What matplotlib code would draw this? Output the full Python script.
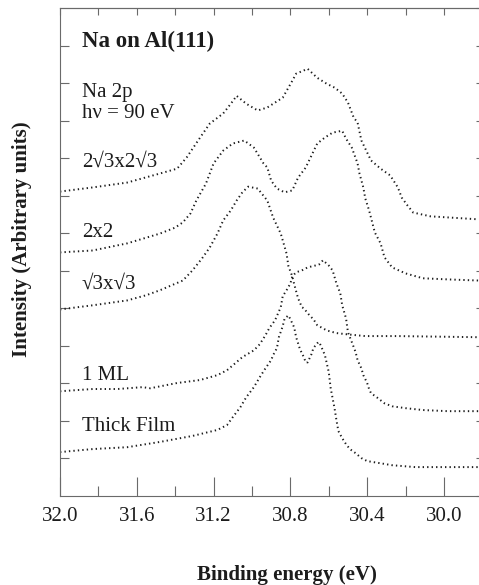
import numpy as np
import matplotlib.pyplot as plt
from matplotlib.ticker import MultipleLocator, FormatStrFormatter, NullFormatter

plt.rcParams['font.family'] = ['Liberation Serif', 'DejaVu Serif']

# Na 2p spectra, binding energy (eV) and intensity (arb. units, offset per curve)
e_2r3 = [32.00, 31.83, 31.65, 31.48, 31.39, 31.34, 31.27, 31.22, 31.15, 31.11, 31.08, 31.03,
         30.97, 30.92, 30.84, 30.79, 30.77, 30.71, 30.66, 30.61, 30.57, 30.53, 30.50, 30.47,
         30.45, 30.43, 30.40, 30.38, 30.33, 30.28, 30.24, 30.22, 30.19, 30.16, 30.07, 29.82]
i_2r3 = [8.11, 8.22, 8.35, 8.59, 8.72, 9.02, 9.55, 9.92, 10.19, 10.45, 10.66, 10.45,
         10.27, 10.35, 10.61, 11.06, 11.25, 11.38, 11.14, 10.98, 10.88, 10.72, 10.48, 10.08,
         9.95, 9.47, 9.15, 8.94, 8.72, 8.54, 8.22, 7.95, 7.74, 7.55, 7.45, 7.37]

e_2x2 = [32.00, 31.83, 31.65, 31.48, 31.40, 31.36, 31.32, 31.29, 31.24, 31.20, 31.15, 31.10,
         31.04, 30.99, 30.94, 30.92, 30.90, 30.87, 30.83, 30.79, 30.76, 30.72, 30.69, 30.66,
         30.62, 30.58, 30.53, 30.51, 30.48, 30.45, 30.44, 30.42, 30.41, 30.39, 30.36, 30.33,
         30.31, 30.27, 30.20, 30.11, 29.98, 29.82]
i_2x2 = [6.49, 6.54, 6.73, 6.99, 7.15, 7.29, 7.53, 7.87, 8.32, 8.86, 9.20, 9.39,
         9.47, 9.28, 8.86, 8.75, 8.40, 8.19, 8.09, 8.14, 8.48, 8.75, 9.07, 9.39,
         9.55, 9.68, 9.73, 9.52, 9.28, 8.86, 8.59, 8.22, 7.93, 7.61, 7.02, 6.73,
         6.36, 6.09, 5.93, 5.80, 5.77, 5.74]

e_r3 = [32.00, 31.83, 31.65, 31.55, 31.48, 31.36, 31.31, 31.26, 31.22, 31.18, 31.15, 31.11,
        31.08, 31.05, 31.02, 30.97, 30.92, 30.89, 30.85, 30.82, 30.81, 30.79, 30.78, 30.76,
        30.74, 30.73, 30.70, 30.68, 30.66, 30.61, 30.56, 30.51, 30.41, 30.24, 29.82]
i_r3 = [4.97, 5.08, 5.21, 5.35, 5.48, 5.74, 6.01, 6.33, 6.62, 6.99, 7.34, 7.61,
        7.87, 8.09, 8.24, 8.19, 7.87, 7.42, 6.99, 6.46, 6.12, 5.85, 5.64, 5.27,
        5.03, 5.00, 4.81, 4.71, 4.55, 4.41, 4.34, 4.31, 4.26, 4.26, 4.23]

e_1ml = [32.00, 31.83, 31.70, 31.57, 31.53, 31.39, 31.27, 31.18, 31.13, 31.10, 31.05, 30.99,
         30.96, 30.93, 30.91, 30.88, 30.85, 30.84, 30.82, 30.80, 30.79, 30.77, 30.74, 30.71,
         30.67, 30.65, 30.63, 30.60, 30.58, 30.56, 30.54, 30.53, 30.51, 30.50, 30.48, 30.46,
         30.45, 30.43, 30.42, 30.40, 30.39, 30.38, 30.35, 30.33, 30.31, 30.27, 30.20, 30.11,
         29.98, 29.82]
i_1ml = [2.79, 2.85, 2.85, 2.90, 2.87, 3.01, 3.09, 3.22, 3.35, 3.48, 3.70, 3.88,
         4.04, 4.28, 4.47, 4.68, 5.03, 5.32, 5.48, 5.66, 5.85, 5.96, 6.01, 6.09,
         6.14, 6.17, 6.28, 6.14, 6.01, 5.66, 5.40, 5.08, 4.73, 4.36, 4.10, 3.83,
         3.62, 3.40, 3.22, 3.01, 2.85, 2.74, 2.63, 2.55, 2.47, 2.39, 2.34, 2.29,
         2.26, 2.26]

e_thick = [32.00, 31.83, 31.65, 31.48, 31.31, 31.18, 31.13, 31.10, 31.06, 31.03, 30.99, 30.96,
           30.93, 30.90, 30.89, 30.87, 30.86, 30.84, 30.83, 30.81, 30.80, 30.78, 30.77, 30.75,
           30.73, 30.72, 30.71, 30.69, 30.68, 30.66, 30.65, 30.64, 30.62, 30.60, 30.59, 30.57,
           30.56, 30.55, 30.53, 30.51, 30.49, 30.46, 30.43, 30.40, 30.34, 30.27, 30.15, 29.82]
i_thick = [1.17, 1.25, 1.30, 1.44, 1.60, 1.76, 1.89, 2.10, 2.37, 2.63, 2.90, 3.16,
           3.40, 3.62, 3.75, 3.94, 4.23, 4.52, 4.73, 4.81, 4.71, 4.49, 4.23, 3.91,
           3.70, 3.56, 3.56, 3.78, 3.94, 4.07, 4.10, 3.99, 3.75, 3.30, 2.87, 2.34,
           2.02, 1.73, 1.54, 1.38, 1.25, 1.14, 1.01, 0.93, 0.88, 0.82, 0.77, 0.77]

spectra = [(e_2r3, i_2r3), (e_2x2, i_2x2), (e_r3, i_r3), (e_1ml, i_1ml), (e_thick, i_thick)]

# labels: (text, axes-y of baseline, bold)
labels = [("Na on Al(111)", 0.920, True),
          ("Na 2p", 0.818, False),
          ("h\u03bd = 90 eV", 0.775, False),
          ("2\u221a3x2\u221a3", 0.674, False),
          ("2x2", 0.531, False),
          ("\u221a3x\u221a3", 0.424, False),
          ("1 ML", 0.238, False),
          ("Thick Film", 0.133, False)]

ink = '#1c1c1c'
axis_col = '#6a6a6a'

fig = plt.figure(figsize=(4.79, 5.85), dpi=100)
ax = fig.add_axes([60 / 479, 89 / 585, 421 / 479, 488 / 585])

for e, inten in spectra:
    ax.plot(e, inten, color=ink, lw=1.4, ls=(0, (0.7, 1.6)))

ax.set_xlim(32.0, 29.807)
ax.set_ylim(0, 13)

for s in ax.spines.values():
    s.set_color(axis_col)
    s.set_linewidth(0.8)

ax.xaxis.set_major_locator(MultipleLocator(0.4))
ax.xaxis.set_minor_locator(MultipleLocator(0.2))
ax.xaxis.set_major_formatter(FormatStrFormatter('%.1f'))
ax.tick_params(axis='x', which='major', direction='in', length=13.5, width=0.8,
               color=axis_col, labelsize=15, pad=8, labelcolor=ink)
ax.tick_params(axis='x', which='minor', direction='in', length=7, width=0.8, color=axis_col)

ax.set_yticks(np.arange(1, 13))
ax.tick_params(axis='y', direction='in', length=6.5, width=0.8, color=axis_col, labelleft=False)

top = ax.secondary_xaxis('top')
top.xaxis.set_major_locator(MultipleLocator(0.2))
top.xaxis.set_major_formatter(NullFormatter())
top.tick_params(direction='in', length=5, width=0.8, color=axis_col)
top.spines['top'].set_color(axis_col)

right = ax.secondary_yaxis('right')
right.yaxis.set_major_locator(MultipleLocator(1))
right.yaxis.set_major_formatter(NullFormatter())
right.tick_params(direction='in', length=3.6, width=0.8, color=axis_col)

for txt, y, bold in labels:
    ax.text(0.052, y, txt, transform=ax.transAxes, ha='left', va='baseline',
            fontsize=16.5 if bold else 15, fontweight='bold' if bold else 'normal', color=ink)

ax.set_xlabel("Binding energy (eV)", fontsize=15, fontweight='bold', color=ink)
ax.xaxis.set_label_coords(0.539, -0.142)
ax.set_ylabel("Intensity (Arbitrary units)", fontsize=15, fontweight='bold', color=ink)
ax.yaxis.set_label_coords(-0.067, 0.527)

fig.savefig('out.png', dpi=100)
